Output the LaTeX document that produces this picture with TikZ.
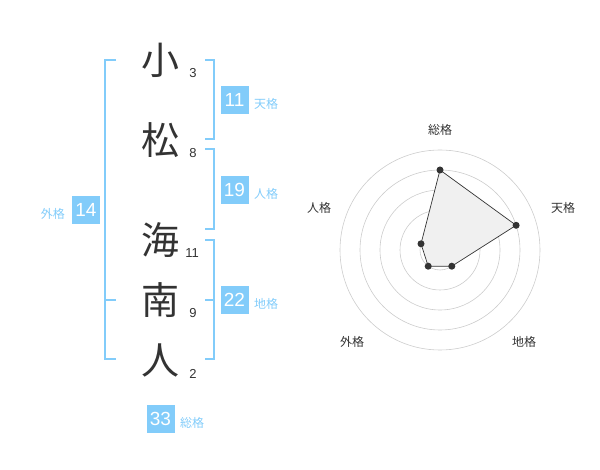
\documentclass[tikz,border=0pt]{standalone}
\usepackage{fontspec}
\setmainfont{Liberation Sans}
\newfontfamily\jpfont{Noto Sans CJK JP}
\usetikzlibrary{positioning}

\definecolor{kakublue}{RGB}{130,204,250}
\definecolor{inkgray}{RGB}{51,51,51}
\definecolor{ringgray}{RGB}{204,204,204}
\definecolor{areagray}{RGB}{240,240,240}

\tikzset{
  kanji/.style={font=\jpfont\fontsize{38}{38}\selectfont, text=inkgray, inner sep=0pt},
  stroke/.style={font=\fontsize{13}{13}\selectfont, text=inkgray, inner sep=0pt},
  kakubox/.style={fill=kakublue, text=white, minimum size=28pt, inner sep=0pt, font=\fontsize{19}{19}\selectfont},
  kakulabel/.style={font=\jpfont\fontsize{12}{12}\selectfont, text=kakublue, inner sep=0pt},
  bracket/.style={draw=kakublue, line width=1.6pt},
  axislabel/.style={font=\jpfont\fontsize{12}{12}\selectfont, text=inkgray, inner sep=0pt},
  dot/.style={circle, fill=inkgray, inner sep=0pt, minimum size=7pt}
}

\begin{document}
\begin{tikzpicture}[x=1pt,y=-1pt]
    % page frame
    \useasboundingbox (0,0) rectangle (600,470);

    % name characters
    \node[kanji] (k1) at (160,60)  {小};
    \node[kanji] (k2) at (160,140) {松};
    \node[kanji] (k3) at (160,240) {海};
    \node[kanji] (k4) at (160,300) {南};
    \node[kanji] (k5) at (160,360) {人};

    % stroke counts
    \node[stroke] (s1) at (193,73)  {3};
    \node[stroke] (s2) at (193,153) {8};
    \node[stroke] (s3) at (192,253) {11};
    \node[stroke] (s4) at (193,313) {9};
    \node[stroke] (s5) at (193,374) {2};

    % brackets
    \draw[bracket] (116,60) -- (105,60) -- (105,359) -- (116,359); % gaikaku
    \draw[bracket] (105,300) -- (116,300);
    \draw[bracket] (205,60) -- (214,60) -- (214,139) -- (205,139); % tenkaku
    \draw[bracket] (205,149) -- (214,149) -- (214,229) -- (205,229); % jinkaku
    \draw[bracket] (205,240) -- (214,240) -- (214,359) -- (205,359); % chikaku
    \draw[bracket] (205,300) -- (214,300);

    % kaku values
    \node[kakubox] (ten) at (234.5,100) {11};
    \node[kakulabel, anchor=west] (tenl) at (254,104) {天格};
    \node[kakubox] (jin) at (234.5,190) {19};
    \node[kakulabel, anchor=west] (jinl) at (254,194) {人格};
    \node[kakubox] (chi) at (234.5,300) {22};
    \node[kakulabel, anchor=west] (chil) at (254,304) {地格};
    \node[kakubox] (gai) at (86,210) {14};
    \node[kakulabel, anchor=east] (gail) at (65,214) {外格};
    \node[kakubox] (sou) at (160.5,419) {33};
    \node[kakulabel, anchor=west] (soul) at (180,423) {総格};

    % radar chart
    \foreach \r in {20,40,60,80,100}
        \draw[ringgray, line width=0.6pt] (440,250) circle (\r);
    \fill[ringgray] (440,250) circle (4);

    \path (440,250) ++(0,-80) coordinate (psou);
    \path (440,250) ++(76.1,-24.7) coordinate (pten);
    \path (440,250) ++(11.8,16.2) coordinate (pchi);
    \path (440,250) ++(-11.8,16.2) coordinate (pgai);
    \path (440,250) ++(-19.0,-6.2) coordinate (pjin);

    \draw[inkgray, fill=areagray, line width=0.7pt] (psou) -- (pten) -- (pchi) -- (pgai) -- (pjin) -- cycle;
    \foreach \p in {psou,pten,pchi,pgai,pjin}
        \node[dot] at (\p) {};

    \node[axislabel] (asou) at (440,130) {総格};
    \node[axislabel] (aten) at (563,208) {天格};
    \node[axislabel] (achi) at (524,342) {地格};
    \node[axislabel] (agai) at (352,342) {外格};
    \node[axislabel] (ajin) at (319,208) {人格};
\end{tikzpicture}
\end{document}
